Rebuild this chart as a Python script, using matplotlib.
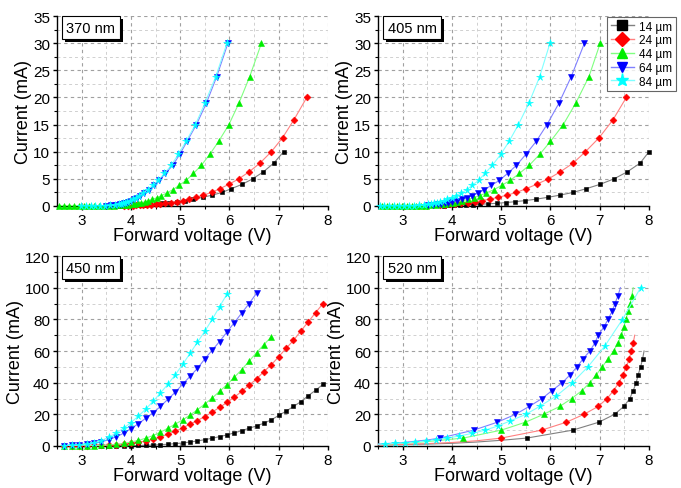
import matplotlib
matplotlib.use("Agg")
import matplotlib.pyplot as plt
import matplotlib.patheffects as pe
from matplotlib.ticker import MultipleLocator

plt.rcParams['font.family'] = ['Liberation Sans', 'DejaVu Sans']

labels = ['14 µm', '24 µm', '44 µm', '64 µm', '84 µm']
mark_colors = ['#000000', '#ff0000', '#00ee00', '#0000ff', '#00ffff']
line_colors = ['#808080', '#ff8080', '#80ff80', '#8080ff', '#80ffff']
markers = ['s', 'D', '^', 'v', '*']

# ---- 370 nm ----
v370_14 = [7.10, 6.90, 6.69, 6.47, 6.26, 6.04, 5.85, 5.65, 5.46, 5.27, 5.10, 4.93, 4.78, 4.64, 4.51,
           4.39, 4.28, 4.18, 4.09, 4.00, 3.9, 3.8, 3.7]
i370_14 = [10, 7.9, 6.3, 5.0, 4.0, 3.2, 2.5, 2.0, 1.6, 1.26, 1.0, 0.79, 0.63, 0.5, 0.4,
           0.32, 0.25, 0.2, 0.16, 0.13, 0.1, 0.08, 0.06]
v370_24 = [7.57, 7.31, 7.08, 6.85, 6.62, 6.40, 6.19, 5.99, 5.81, 5.64, 5.47, 5.32, 5.18, 5.05, 4.93,
           4.81, 4.70, 4.60, 4.50, 4.41, 4.33, 4.25, 4.18, 4.11, 4.05, 3.95, 3.85]
i370_24 = [20, 15.9, 12.6, 10, 7.9, 6.3, 5.0, 4.0, 3.2, 2.5, 2.0, 1.6, 1.26, 1.0, 0.79,
           0.63, 0.5, 0.4, 0.32, 0.25, 0.2, 0.16, 0.13, 0.1, 0.08, 0.06, 0.05]
v370_44 = [6.65, 6.41, 6.19, 5.99, 5.78, 5.60, 5.43, 5.27, 5.12, 4.98, 4.85, 4.73, 4.62, 4.52, 4.43,
           4.35, 4.28, 4.21, 4.15, 4.09, 4.04, 3.95, 3.85, 3.75, 3.65, 3.55, 3.45, 3.35, 3.25, 3.15,
           3.05, 2.95, 2.85, 2.75, 2.65, 2.55]
i370_44 = [30, 23.8, 18.9, 15.0, 11.9, 9.5, 7.5, 6.0, 4.7, 3.8, 3.0, 2.4, 1.9, 1.5, 1.2,
           0.95, 0.75, 0.6, 0.47, 0.38, 0.3, 0.2, 0.15, 0.1, 0.08, 0.06, 0.05, 0.05, 0.05, 0.05,
           0.05, 0.05, 0.05, 0.05, 0.05, 0.05]
v370_64 = [5.97, 5.74, 5.53, 5.33, 5.14, 4.99, 4.85, 4.70, 4.57, 4.46, 4.36, 4.27, 4.19, 4.12, 4.06,
           4.00, 3.95, 3.90, 3.86, 3.82, 3.78, 3.70, 3.60, 3.50]
i370_64 = [30, 23.8, 18.9, 15.0, 11.9, 9.5, 7.5, 6.0, 4.7, 3.8, 3.0, 2.4, 1.9, 1.5, 1.2,
           0.95, 0.75, 0.6, 0.47, 0.38, 0.3, 0.2, 0.1, 0.05]
v370_84 = [5.95, 5.72, 5.50, 5.31, 5.12, 4.96, 4.82, 4.68, 4.55, 4.44, 4.34, 4.25, 4.17, 4.10, 4.04,
           3.98, 3.93, 3.88, 3.84, 3.80, 3.76, 3.68, 3.58, 3.48, 3.38, 3.28, 3.18, 3.08, 2.98]
i370_84 = [30, 23.8, 18.9, 15.0, 11.9, 9.5, 7.5, 6.0, 4.7, 3.8, 3.0, 2.4, 1.9, 1.5, 1.2,
           0.95, 0.75, 0.6, 0.47, 0.38, 0.3, 0.2, 0.12, 0.08, 0.06, 0.05, 0.05, 0.05, 0.05]

# ---- 405 nm ----
v405_14 = [8.0, 7.82, 7.56, 7.29, 7.01, 6.73, 6.46, 6.19, 5.95, 5.71, 5.49, 5.28, 5.09, 4.91, 4.74,
           4.58, 4.43, 4.29, 4.16, 4.04, 3.93, 3.83]
i405_14 = [10, 7.9, 6.3, 5.0, 4.0, 3.2, 2.5, 2.0, 1.6, 1.26, 1.0, 0.79, 0.63, 0.5, 0.4,
           0.32, 0.25, 0.2, 0.16, 0.13, 0.1, 0.08]
v405_24 = [7.54, 7.27, 6.99, 6.71, 6.46, 6.20, 5.96, 5.72, 5.51, 5.31, 5.12, 4.94, 4.77, 4.61, 4.46,
           4.32, 4.19, 4.07, 3.96, 3.86, 3.76]
i405_24 = [20, 15.9, 12.6, 10, 7.9, 6.3, 5.0, 4.0, 3.2, 2.5, 2.0, 1.6, 1.26, 1.0, 0.79,
           0.63, 0.5, 0.4, 0.32, 0.25, 0.2]
v405_44 = [7.01, 6.78, 6.51, 6.26, 6.00, 5.78, 5.57, 5.37, 5.18, 5.01, 4.85, 4.70, 4.56, 4.44, 4.32,
           4.21, 4.11, 4.02, 3.93, 3.85, 3.77, 3.68, 3.58, 3.48, 3.38, 3.28, 3.18, 3.08, 2.98, 2.88,
           2.78, 2.68, 2.58]
i405_44 = [30, 23.8, 18.9, 15.0, 11.9, 9.5, 7.5, 6.0, 4.7, 3.8, 3.0, 2.4, 1.9, 1.5, 1.2,
           0.95, 0.75, 0.6, 0.47, 0.38, 0.3, 0.2, 0.12, 0.08, 0.06, 0.05, 0.05, 0.05, 0.05, 0.05,
           0.05, 0.05, 0.05]
v405_64 = [6.69, 6.42, 6.17, 5.93, 5.71, 5.50, 5.31, 5.13, 4.96, 4.80, 4.66, 4.53, 4.41, 4.30, 4.20,
           4.10, 4.01, 3.93, 3.85, 3.78, 3.71, 3.62, 3.52]
i405_64 = [30, 23.8, 18.9, 15.0, 11.9, 9.5, 7.5, 6.0, 4.7, 3.8, 3.0, 2.4, 1.9, 1.5, 1.2,
           0.95, 0.75, 0.6, 0.47, 0.38, 0.3, 0.2, 0.1]
v405_84 = [5.99, 5.78, 5.56, 5.35, 5.16, 4.99, 4.82, 4.67, 4.54, 4.41, 4.30, 4.19, 4.09, 4.00, 3.91,
           3.83, 3.76, 3.69, 3.63, 3.57, 3.51, 3.43, 3.33, 3.23, 3.13, 3.03, 2.93, 2.83, 2.73, 2.63,
           2.53]
i405_84 = [30, 23.8, 18.9, 15.0, 11.9, 9.5, 7.5, 6.0, 4.7, 3.8, 3.0, 2.4, 1.9, 1.5, 1.2,
           0.95, 0.75, 0.6, 0.47, 0.38, 0.3, 0.2, 0.12, 0.08, 0.06, 0.05, 0.05, 0.05, 0.05, 0.05,
           0.05]

# ---- 450 nm ----
v450_14 = [7.9, 7.75, 7.6, 7.45, 7.3, 7.15, 7.0, 6.85, 6.7, 6.55, 6.4, 6.25, 6.1, 5.95, 5.8, 5.65,
           5.5, 5.35, 5.2, 5.05, 4.9, 4.75, 4.6, 4.45, 4.3, 4.15, 4.0, 3.85, 3.7, 3.55, 3.4, 3.25,
           3.1, 2.95, 2.8, 2.65]
i450_14 = [39, 35.2, 31.8, 28, 25, 22, 19.3, 16.5, 14.4, 12.7, 11.2, 9.7, 8.3, 7.0, 5.9, 4.9,
           4.0, 3.2, 2.5, 1.9, 1.5, 1.1, 0.85, 0.6, 0.45, 0.35, 0.25, 0.2, 0.15, 0.1, 0.08, 0.06,
           0.05, 0.04, 0.03, 0.02]
v450_24 = [7.9, 7.75, 7.6, 7.45, 7.3, 7.15, 7.0, 6.85, 6.7, 6.55, 6.4, 6.25, 6.1, 5.95, 5.8, 5.65,
           5.5, 5.35, 5.2, 5.05, 4.9, 4.75, 4.6, 4.45, 4.3, 4.15, 4.0, 3.85, 3.7, 3.55, 3.4, 3.25,
           3.1, 2.95, 2.8, 2.65]
i450_24 = [90, 84.3, 78.4, 72.7, 66.7, 61.7, 56.4, 51.3, 47, 42.4, 38.4, 34.5, 30.9, 27.5, 24.4, 21.4,
           18.6, 16.1, 13.8, 11.4, 9.3, 7.4, 5.7, 4.4, 3.2, 2.3, 1.7, 1.2, 0.85, 0.6, 0.45, 0.35,
           0.25, 0.2, 0.15, 0.1]
v450_44 = [6.85, 6.7, 6.55, 6.4, 6.25, 6.1, 5.95, 5.8, 5.65, 5.5, 5.35, 5.2, 5.05, 4.9, 4.75, 4.6,
           4.45, 4.3, 4.15, 4.0, 3.85, 3.7, 3.55, 3.4, 3.25, 3.1, 2.95, 2.8, 2.65]
i450_44 = [69, 64, 59, 53.6, 48.3, 43.4, 38.8, 34.5, 30.3, 26.5, 22.9, 19.5, 16.5, 13.8, 11.2, 8.7,
           6.6, 4.9, 3.5, 2.5, 1.6, 1.0, 0.6, 0.4, 0.3, 0.2, 0.15, 0.1, 0.08]
v450_64 = [6.55, 6.4, 6.25, 6.1, 5.95, 5.8, 5.65, 5.5, 5.35, 5.2, 5.05, 4.9, 4.75, 4.6, 4.45, 4.3,
           4.15, 4.0, 3.85, 3.7, 3.55, 3.4, 3.25, 3.1, 2.95, 2.8, 2.65]
i450_64 = [96.5, 90, 84, 78, 72, 66, 60.5, 55, 49, 44, 39, 34, 29.5, 25, 21, 17.5,
           14, 11, 8, 5.8, 4, 2.6, 1.6, 1.0, 0.6, 0.4, 0.3]
v450_84 = [5.95, 5.8, 5.65, 5.5, 5.35, 5.2, 5.05, 4.9, 4.75, 4.6, 4.45, 4.3, 4.15, 4.0, 3.85, 3.7,
           3.55, 3.4, 3.25, 3.1, 2.95, 2.8, 2.65]
i450_84 = [96, 88, 80, 72.5, 65.5, 58.5, 51.5, 45, 39, 33.5, 28.2, 23.3, 18.8, 14.8, 11.2, 8.2,
           5.5, 3.4, 2.0, 1.1, 0.6, 0.4, 0.3]

# ---- 520 nm (measured points + fitted line ends) ----
v520_14 = [5.52, 6.45, 6.98, 7.30, 7.49, 7.61, 7.68, 7.74, 7.78, 7.83, 7.87]
i520_14 = [5, 10, 15, 20, 25, 30, 35, 40, 45, 50, 55]
v520_24 = [5.0, 5.82, 6.32, 6.68, 6.97, 7.15, 7.28, 7.39, 7.47, 7.54, 7.60, 7.64, 7.68]
i520_24 = [5, 10, 15, 20, 25, 30, 35, 40, 45, 50, 55, 60, 65]
v520_44 = [4.23, 5.0, 5.49, 5.86, 6.19, 6.43, 6.64, 6.80, 6.93, 7.05, 7.17, 7.28, 7.37, 7.44,
           7.49, 7.53, 7.58, 7.62, 7.65]
i520_44 = [5, 10, 15, 20, 25, 30, 35, 40, 45, 50, 55, 60, 65, 70, 75, 80, 85, 90, 95]
v520_64 = [3.76, 4.44, 4.92, 5.29, 5.57, 5.83, 6.03, 6.24, 6.40, 6.54, 6.66, 6.80, 6.90, 6.97,
           7.08, 7.17, 7.25, 7.31, 7.37]
i520_64 = [5, 10, 15, 20, 25, 30, 35, 40, 45, 50, 55, 60, 65, 70, 75, 80, 85, 90, 95]
v520_84 = [7.83, 7.45, 7.10, 6.76, 6.44, 6.12, 5.78, 5.50, 5.18, 4.93, 4.67, 4.40, 4.15, 3.90,
           3.68, 3.48, 3.25, 3.05, 2.85, 2.65]
i520_84 = [100, 79.4, 63, 50, 39.8, 31.6, 25, 20, 15.8, 12.6, 10, 7.9, 6.3, 5, 4, 3.2, 2.5, 2, 1.6, 1.26]

# fitted line extensions below the first and above the last point (520 nm)
fitlo_v_14 = [2.5, 3.0, 3.5, 4.0, 4.5, 5.0]
fitlo_i_14 = [0.6, 0.9, 1.2, 1.7, 2.5, 3.6]
fithi_14 = (7.9, 60)
fitlo_v_24 = [2.5, 3.0, 3.5, 4.0, 4.5]
fitlo_i_24 = [0.7, 1.0, 1.5, 2.2, 3.3]
fithi_24 = (7.71, 70)
fitlo_v_44 = [2.5, 3.0, 3.5]
fitlo_i_44 = [1.0, 1.7, 2.8]
fithi_44 = (7.68, 100)
fitlo_v_64 = [2.5, 3.0, 3.5]
fitlo_i_64 = [1.2, 2.2, 3.8]
fithi_64 = (7.42, 100)
fitlo_v_84 = [2.5]
fitlo_i_84 = [1.1]
fithi_84 = None

panels = [
    ('370 nm', [(v370_14, i370_14), (v370_24, i370_24), (v370_44, i370_44), (v370_64, i370_64), (v370_84, i370_84)], 35, 5),
    ('405 nm', [(v405_14, i405_14), (v405_24, i405_24), (v405_44, i405_44), (v405_64, i405_64), (v405_84, i405_84)], 35, 5),
    ('450 nm', [(v450_14, i450_14), (v450_24, i450_24), (v450_44, i450_44), (v450_64, i450_64), (v450_84, i450_84)], 120, 20),
    ('520 nm', [(v520_14, i520_14), (v520_24, i520_24), (v520_44, i520_44), (v520_64, i520_64), (v520_84, i520_84)], 120, 20),
]
fits520 = [(fitlo_v_14, fitlo_i_14, fithi_14), (fitlo_v_24, fitlo_i_24, fithi_24),
           (fitlo_v_44, fitlo_i_44, fithi_44), (fitlo_v_64, fitlo_i_64, fithi_64),
           (fitlo_v_84, fitlo_i_84, fithi_84)]

msizes = [3.3, 3.5, 4.2, 4.2, 5.5]

fig = plt.figure(figsize=(6.81, 4.89), dpi=100)
positions = [[0.0837, 0.5767, 0.3979, 0.3885], [0.5551, 0.5767, 0.3979, 0.3885],
             [0.0837, 0.0859, 0.3979, 0.3885], [0.5551, 0.0859, 0.3979, 0.3885]]

for p, (name, series, ymax, ystep) in enumerate(panels):
    ax = fig.add_axes(positions[p])
    for k, (v, cur) in enumerate(series):
        lv = list(v)
        li = list(cur)
        if p == 3:
            lo_v, lo_i, hi = fits520[k]
            pts = sorted(zip(lv, li))
            lv = lo_v + [a for a, b in pts]
            li = lo_i + [b for a, b in pts]
            if hi is not None:
                lv.append(hi[0])
                li.append(hi[1])
        ax.plot(lv, li, color=line_colors[k], lw=0.8, zorder=2 + k)
        ax.plot(v, cur, linestyle='none', marker=markers[k], color=mark_colors[k],
                markersize=msizes[k], markeredgewidth=0.4, clip_on=False, zorder=3 + k)
    ax.set_xlim(2.5, 8)
    ax.set_ylim(0, ymax)
    ax.xaxis.set_major_locator(MultipleLocator(1))
    ax.xaxis.set_minor_locator(MultipleLocator(0.5))
    ax.yaxis.set_major_locator(MultipleLocator(ystep))
    ax.yaxis.set_minor_locator(MultipleLocator(ystep / 2))
    ax.grid(which='major', color='#a0a0a0', linestyle=(0, (3, 3)), lw=0.8)
    ax.grid(which='minor', color='#d0d0d0', linestyle=(0, (3, 3)), lw=0.7)
    ax.set_axisbelow(True)
    for s in ['top', 'right']:
        ax.spines[s].set_visible(False)
    for s in ['left', 'bottom']:
        ax.spines[s].set_linewidth(1.0)
    ax.tick_params(which='major', direction='out', length=3, width=1, labelsize=11, pad=2)
    ax.tick_params(which='minor', direction='out', length=2, width=0.8)
    ax.set_xlabel('Forward voltage (V)', fontsize=13, labelpad=0)
    ax.set_ylabel('Current (mA)', fontsize=13, labelpad=0.5)
    t = ax.text(0.035, 0.975, name, transform=ax.transAxes, fontsize=10.5, va='top', ha='left',
                zorder=20, bbox=dict(boxstyle='square,pad=0.3', fc='white', ec='black', lw=0.8))
    t.get_bbox_patch().set_path_effects([pe.withSimplePatchShadow(offset=(2, -2), shadow_rgbFace='black', alpha=1.0)])

    if p == 1:
        handles = []
        for k in range(5):
            h, = ax.plot([], [], color=line_colors[k], lw=1.0, marker=markers[k], markersize=7.5 if k < 4 else 9.5,
                         markerfacecolor=mark_colors[k], markeredgecolor=mark_colors[k])
            handles.append(h)
        leg = ax.legend(handles, labels, loc='upper left', bbox_to_anchor=(0.845, 0.995), fontsize=8.5,
                        frameon=True, fancybox=False, edgecolor='#404040', handlelength=2.0,
                        handletextpad=0.4, borderpad=0.3, labelspacing=0.15, borderaxespad=0.0)
        leg.get_frame().set_linewidth(0.8)
        leg.set_zorder(30)

fig.savefig('out.png', dpi=100)
